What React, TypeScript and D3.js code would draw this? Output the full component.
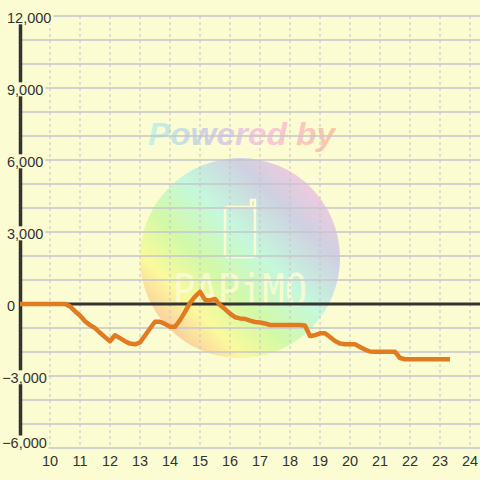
import { useMemo } from 'react';
import * as d3 from 'd3';

const WIDTH = 480;
const HEIGHT = 480;
const MARGIN = { top: 16, right: 0, bottom: 32, left: 20 };

// balance every 10 minutes, starting 9:00
const START_HOUR = 9;
const STEP_HOURS = 1 / 6;
const VALUES = [
  0, 0, 0, 0, 0, 0, 0, 0, 0, 0,
  -100, -300, -480, -720, -880, -1000, -1200, -1380, -1550, -1300,
  -1420, -1550, -1650, -1680, -1600, -1310, -1020, -740, -740, -830,
  -950, -950, -670, -330, 50, 310, 510, 170, 150, 210,
  -40, -210, -400, -550, -600, -620, -690, -750, -770, -810,
  -875, -875, -875, -875, -875, -875, -875, -900, -1330, -1300,
  -1220, -1220, -1375, -1540, -1650, -1680, -1680, -1680, -1790, -1900,
  -1980, -1990, -1990, -1990, -1990, -1990, -2250, -2300, -2300, -2300,
  -2300, -2300, -2300, -2300, -2300, -2300, -2300,
];

const X_TICKS = [10, 11, 12, 13, 14, 15, 16, 17, 18, 19, 20, 21, 22, 23, 24];
const Y_LABELS = [12000, 9000, 6000, 3000, 0, -3000, -6000];
const Y_GRID = [12000, 11000, 10000, 9000, 8000, 7000, 6000, 5000, 4000, 3000, 2000, 1000, -1000, -2000, -3000, -4000, -5000, -6000];

const BG = '#fcfcd2';
const FONT = '"Liberation Sans", Arial, sans-serif';
const FS = 14.5;

type Point = { t: number; v: number };

const charW = (c: string) => (c === ',' ? 0.278 : c === '-' ? 0.333 : 0.556);
const textWidth = (s: string) => s.split('').reduce((a, c) => a + charW(c), 0) * FS;

export default function App() {
  const data: Point[] = VALUES.map((v, i) => ({ t: START_HOUR + i * STEP_HOURS, v }));

  const xScale = useMemo(
    () => d3.scaleLinear().domain([9, 9 + (WIDTH - MARGIN.left) / 30]).range([MARGIN.left, WIDTH - MARGIN.right]),
    []
  );
  const yScale = useMemo(
    () => d3.scaleLinear().domain([-6000, 12000]).range([HEIGHT - MARGIN.bottom, MARGIN.top]),
    []
  );

  const linePath = d3
    .line<Point>()
    .x((d) => xScale(d.t))
    .y((d) => yScale(d.v))(data);

  const fmt = d3.format(',');
  const cx = 240;
  const cy = 258;

  return (
    <svg width={WIDTH} height={HEIGHT} style={{ position: 'absolute', left: 0, top: 0 }}>
      <defs>
        <linearGradient id="circleGrad" x1="0" y1="1" x2="1" y2="0">
          <stop offset="0.1" stopColor="#fbc0a0" />
          <stop offset="0.26" stopColor="#fbf99c" />
          <stop offset="0.4" stopColor="#d2f9a8" />
          <stop offset="0.56" stopColor="#c5f8dc" />
          <stop offset="0.74" stopColor="#cfd0e2" />
          <stop offset="0.9" stopColor="#fcc8dc" />
        </linearGradient>
        <linearGradient id="textGrad" x1="0" y1="0" x2="1" y2="0">
          <stop offset="0" stopColor="#c4f4de" />
          <stop offset="0.3" stopColor="#cdd2e4" />
          <stop offset="0.6" stopColor="#f8c8dc" />
          <stop offset="1" stopColor="#fbc6a2" />
        </linearGradient>
      </defs>
      <rect width={WIDTH} height={HEIGHT} fill={BG} />

      {/* watermark */}
      <g>
        <text
          x={148}
          y={145}
          fontFamily={FONT}
          fontWeight="bold"
          fontStyle="italic"
          fontSize={31}
          textLength={187}
          lengthAdjust="spacingAndGlyphs"
          fill="url(#textGrad)"
        >
          Powered by
        </text>
        <circle cx={cx} cy={cy} r={100} fill="url(#circleGrad)" />
        <rect x={225} y={207} width={30} height={50} rx={3} fill="none" stroke={BG} strokeWidth={2.5} />
        <path d="M251,207 V200 H255 V212" fill="none" stroke={BG} strokeWidth={2.5} />
        <text
          x={173}
          y={306}
          fontFamily='"DejaVu Sans Mono", monospace'
          fontSize={44}
          textLength={134}
          lengthAdjust="spacingAndGlyphs"
          fill={BG}
          fillOpacity={0.9}
        >
          PAPiMO
        </text>
      </g>

      {/* grid */}
      {Y_GRID.map((v) => (
        <line key={v} x1={MARGIN.left} x2={WIDTH} y1={yScale(v)} y2={yScale(v)} stroke="#c6c6cc" strokeWidth={1.3} />
      ))}
      {X_TICKS.map((t) => (
        <line
          key={t}
          x1={xScale(t)}
          x2={xScale(t)}
          y1={MARGIN.top}
          y2={HEIGHT - MARGIN.bottom}
          stroke="#c4c4c4"
          strokeWidth={1}
          strokeDasharray="3,3"
        />
      ))}

      {/* zero line and y axis */}
      <line x1={MARGIN.left} x2={WIDTH} y1={yScale(0)} y2={yScale(0)} stroke="#333" strokeWidth={3} />
      <line x1={20.5} x2={20.5} y1={MARGIN.top} y2={HEIGHT - MARGIN.bottom} stroke="#333" strokeWidth={3.5} />

      {/* y labels */}
      {Y_LABELS.map((v, i) => {
        const s = fmt(v);
        const w = textWidth(s);
        const x0 = v < 0 ? 7 - 0.333 * FS : 7;
        const c = yScale(v) + (i === Y_LABELS.length - 1 ? -5.5 : 1.3);
        return (
          <g key={v}>
            <rect x={x0 - 2} y={c - 7} width={w + 4} height={14} fill={BG} />
            <text x={x0} y={c + 5.2} fontFamily={FONT} fontSize={FS} fill="#333">
              {s}
            </text>
          </g>
        );
      })}

      {/* x labels */}
      {X_TICKS.map((t) => (
        <text key={t} x={xScale(t)} y={466} textAnchor="middle" fontFamily={FONT} fontSize={FS} fill="#333">
          {t}
        </text>
      ))}

      {linePath && (
        <path d={linePath} fill="none" stroke="#e07b22" strokeWidth={4.5} strokeLinejoin="round" />
      )}
    </svg>
  );
}
